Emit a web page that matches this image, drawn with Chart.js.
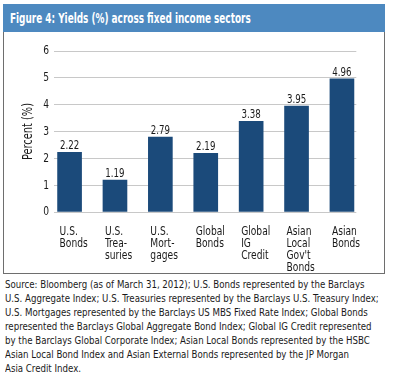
<!DOCTYPE html>
<html>
<head>
<meta charset="utf-8">
<script src="https://cdn.jsdelivr.net/npm/chart.js@4/dist/chart.umd.min.js"></script>
<style>
  html, body { margin: 0; padding: 0; background: #fff; width: 400px; height: 386px; overflow: hidden; }
  body { position: relative; font-family: "DejaVu Sans Condensed", "Liberation Sans", sans-serif; }
  #titlebar { position: absolute; left: 3px; top: 4px; width: 382px; height: 28px; background: #4d89c0; }
  #title { position: absolute; left: 7px; top: 6px; color: #fff; font-weight: bold; font-size: 14px; white-space: nowrap; transform: scaleX(0.706); transform-origin: 0 0; }
  #box { position: absolute; left: 3px; top: 32px; width: 380px; height: 241px; border: 1px solid #6e6e6e; border-top: none; }
  #wrap { position: absolute; left: 4px; top: 33px; width: 381px; height: 241px; }
  #note { position: absolute; left: 5px; top: 278px; font-size: 11px; line-height: 14px; color: #1a1a1a; white-space: nowrap; transform: scaleX(0.872); transform-origin: 0 0; }
</style>
</head>
<body>
<div id="titlebar"><div id="title">Figure 4: Yields (%) across fixed income sectors</div></div>
<div id="box"></div>
<div id="wrap"><canvas id="c" width="381" height="241"></canvas></div>
<div id="note">Source: Bloomberg (as of March 31, 2012); U.S. Bonds represented by the Barclays<br>U.S. Aggregate Index; U.S. Treasuries represented by the Barclays U.S. Treasury Index;<br>U.S. Mortgages represented by the Barclays US MBS Fixed Rate Index; Global Bonds<br>represented the Barclays Global Aggregate Bond Index; Global IG Credit represented<br>by the Barclays Global Corporate Index; Asian Local Bonds represented by the HSBC<br>Asian Local Bond Index and Asian External Bonds represented by the JP Morgan<br>Asia Credit Index.</div>
<script>
const categories = [
  ["U.S.", "Bonds"],
  ["U.S.", "Trea-", "suries"],
  ["U.S.", "Mort-", "gages"],
  ["Global", "Bonds"],
  ["Global", "IG", "Credit"],
  ["Asian", "Local", "Gov't", "Bonds"],
  ["Asian", "Bonds"]
];
const yields = [2.22, 1.19, 2.79, 2.19, 3.38, 3.95, 4.96];
const yTicks = [0, 1, 2, 3, 4, 5, 6];
const valueLabels = ["2.22", "1.19", "2.79", "2.19", "3.38", "3.95", "4.96"];

const FONT = '"DejaVu Sans Condensed", "Liberation Sans", sans-serif';
const TEXT_SQUEEZE = 0.78;

// condensed-looking text: compress glyphs horizontally via fillText maxWidth
const squeezePlugin = {
  id: 'squeeze',
  beforeInit(chart) {
    const ctx = chart.ctx;
    const orig = ctx.fillText.bind(ctx);
    ctx.fillText = function (t, x, y, mw) {
      const w = ctx.measureText(t).width * TEXT_SQUEEZE;
      const lim = (mw === undefined || mw === null) ? w : Math.min(mw, w);
      return lim > 0 ? orig(t, x, y, lim) : orig(t, x, y);
    };
  }
};

const valuePlugin = {
  id: 'valueLabels',
  afterDatasetsDraw(chart) {
    const ctx = chart.ctx;
    const meta = chart.getDatasetMeta(0);
    ctx.save();
    ctx.font = '13px ' + FONT;
    ctx.fillStyle = '#1a1a1a';
    ctx.textAlign = 'center';
    ctx.textBaseline = 'alphabetic';
    meta.data.forEach((bar, i) => {
      const t = valueLabels[i];
      ctx.fillText(t, bar.x, bar.y - 3, ctx.measureText(t).width * 0.74);
    });
    ctx.restore();
  }
};

new Chart(document.getElementById('c'), {
  type: 'bar',
  data: {
    datasets: [{
      data: yields.map((v, i) => ({ x: i, y: v })),
      backgroundColor: '#1b4a7a',
      borderWidth: 0,
      barThickness: 24
    }]
  },
  options: {
    responsive: false,
    animation: false,
    devicePixelRatio: 1,
    layout: { padding: { left: 0, right: 20, top: 18, bottom: 0 } },
    plugins: { legend: { display: false }, tooltip: { enabled: false } },
    scales: {
      x: {
        type: 'linear',
        offset: false,
        min: -0.343,
        max: 6.317,
        grid: { display: false },
        border: { display: false },
        afterBuildTicks: s => { s.ticks = categories.map((c, i) => ({ value: i })); },
        afterFit: s => { s.height = 62; },
        ticks: {
          autoSkip: false,
          maxRotation: 0,
          minRotation: 0,
          align: 'start',
          labelOffset: -10,
          padding: 6,
          color: '#1a1a1a',
          font: { family: FONT, size: 13, lineHeight: '12px' },
          callback: v => categories[v] || ''
        }
      },
      y: {
        min: 0,
        max: 6,
        afterBuildTicks: s => { s.ticks = yTicks.map(v => ({ value: v })); },
        afterFit: s => { s.width = 50; },
        grid: { color: '#c8c8c8', lineWidth: 1, drawTicks: false },
        border: { display: false },
        ticks: {
          padding: 5,
          color: '#1a1a1a',
          font: { family: FONT, size: 13 }
        },
        title: {
          display: true,
          text: 'Percent (%)',
          color: '#1a1a1a',
          font: { family: FONT, size: 14 },
          padding: { top: 16, bottom: 0 }
        }
      }
    }
  },
  plugins: [squeezePlugin, valuePlugin]
});
</script>
</body>
</html>
